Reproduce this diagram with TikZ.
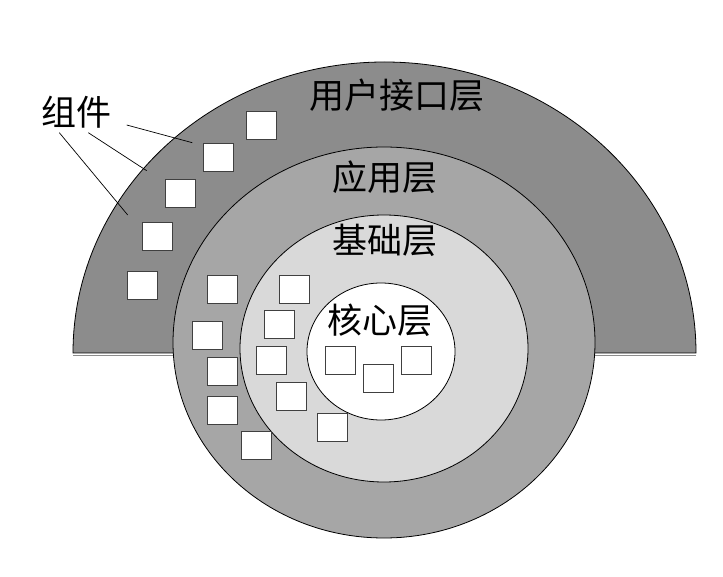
\documentclass[tikz,border=0pt]{standalone}
\usepackage{fontspec}
\setmainfont{Noto Sans CJK SC}
\usepackage{xcolor}
\usepackage{tikz}
\usetikzlibrary{positioning}
\definecolor{uigray}{RGB}{140,140,140}
\definecolor{appgray}{RGB}{166,166,166}
\definecolor{basegray}{RGB}{217,217,217}
\definecolor{edgegray}{RGB}{64,64,64}

\begin{document}
\begin{tikzpicture}[x=1pt, y=-1pt, line width=0.8pt,
    layer/.style={draw=black, line width=0.8pt},
    comp/.style={draw=edgegray, fill=white, line width=0.9pt,
                 minimum width=30pt, minimum height=28pt, inner sep=0pt},
    lbl/.style={font=\fontsize{35}{40}\selectfont, inner sep=0pt}]
  \useasboundingbox (0,0) rectangle (723,577);
  \draw[layer, fill=uigray] (73,353) arc[start angle=180, end angle=360,
        x radius=311.5, y radius=291] -- cycle;
  \draw[draw=uigray, line width=1pt] (73,355.5) -- (696,355.5);
  \draw[layer, fill=appgray]  (384,342.5) ellipse [x radius=211, y radius=195.5];
  \draw[layer, fill=basegray] (384,348.5) ellipse [x radius=144, y radius=133.5];
  \draw[layer, fill=white]    (381,351.5) ellipse [x radius=74, y radius=68.5];
  \node[lbl] (ui)   at (397,95)  {用户接口层};
  \node[lbl] (app)  at (385,177) {应用层};
  \node[lbl] (base) at (385,240) {基础层};
  \node[lbl] (core) at (380,320) {核心层};
  \node[lbl] (part) at (76,112)  {组件};
  \node[comp] (c1)  at (261,125.5) {};
  \node[comp] (c2)  at (218.5,157.5) {};
  \node[comp] (c3)  at (180.5,193) {};
  \node[comp] (c4)  at (157.5,236) {};
  \node[comp] (c5)  at (142,285.5) {};
  \node[comp] (c6)  at (222.5,289) {};
  \node[comp] (c7)  at (294.5,289) {};
  \node[comp] (c8)  at (207,335) {};
  \node[comp] (c9)  at (279.5,324.5) {};
  \node[comp] (c10) at (271.5,360) {};
  \node[comp] (c11) at (222.5,371) {};
  \node[comp] (c12) at (222.5,410) {};
  \node[comp] (c13) at (291,396) {};
  \node[comp] (c14) at (256.5,445.5) {};
  \node[comp] (c15) at (332.5,427.5) {};
  \node[comp] (c16) at (340.5,360) {};
  \node[comp] (c17) at (378.5,378.5) {};
  \node[comp] (c18) at (416.5,360) {};
  \coordinate (pa) at (126.7,125);
  \coordinate (pb) at (88.3,132.7);
  \coordinate (pc) at (59.3,132.7);
  \coordinate (ta) at (192.3,142.7);
  \coordinate (tb) at (146.7,170.7);
  \coordinate (tc) at (127.7,215);
  \draw[line width=0.7pt] (pa) -- (ta);
  \draw[line width=0.7pt] (pb) -- (tb);
  \draw[line width=0.7pt] (pc) -- (tc);
\end{tikzpicture}
\end{document}
